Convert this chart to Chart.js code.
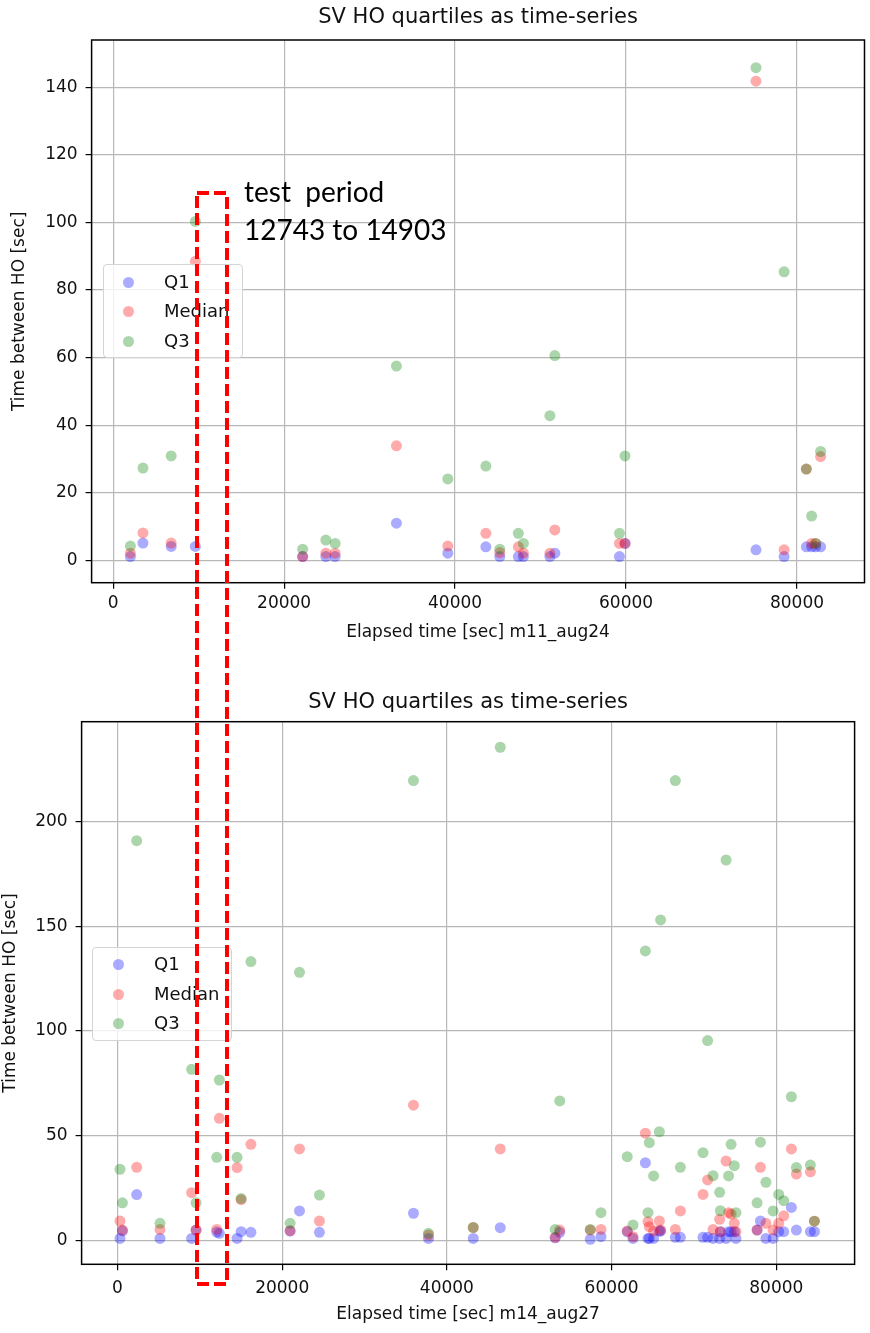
<!DOCTYPE html>
<html>
<head>
<meta charset="utf-8">
<script src="https://cdn.jsdelivr.net/npm/chart.js@4.4.1/dist/chart.umd.min.js"></script>
<style>
  body { margin:0; width:870px; height:1333px; background:#fff; position:relative; overflow:hidden; font-family:'DejaVu Sans', sans-serif; }
  .wrap { position:absolute; left:0; width:870px; }
  #wrapTop { top:0; height:650px; }
  #wrapBottom { top:680px; height:653px; }
  .legend { position:absolute; width:140px; height:94px; border:1px solid #d4d4d4; border-radius:4px; background:rgba(255,255,255,0.8); box-sizing:border-box; }
  .legend .dot { position:absolute; width:11px; height:11px; border-radius:50%; }
  .legend .txt { position:absolute; height:22px; line-height:22px; font-size:18px; color:#111; white-space:nowrap; }
  #note { position:absolute; left:244px; top:173px; font-family:Lato, 'Open Sans', sans-serif; font-size:28px; line-height:37.7px; color:#000; white-space:nowrap; }
  #box { position:absolute; left:0; top:0; }
</style>
</head>
<body>
<div class="wrap" id="wrapTop"><canvas id="chartTop"></canvas></div>
<div class="wrap" id="wrapBottom"><canvas id="chartBottom"></canvas></div>

<div class="legend" style="left:103px;top:264px;">
  <span class="dot" style="left:19px;top:12px;background:rgba(0,0,255,0.33)"></span><span class="txt" style="left:60px;top:6px;">Q1</span>
  <span class="dot" style="left:19px;top:41px;background:rgba(255,0,0,0.33)"></span><span class="txt" style="left:60px;top:35px;">Median</span>
  <span class="dot" style="left:19px;top:71px;background:rgba(0,128,0,0.33)"></span><span class="txt" style="left:60px;top:65px;">Q3</span>
</div>
<div class="legend" style="left:92px;top:947px;">
  <span class="dot" style="left:20px;top:11px;background:rgba(0,0,255,0.33)"></span><span class="txt" style="left:61px;top:5px;">Q1</span>
  <span class="dot" style="left:20px;top:41px;background:rgba(255,0,0,0.33)"></span><span class="txt" style="left:61px;top:35px;">Median</span>
  <span class="dot" style="left:20px;top:70px;background:rgba(0,128,0,0.33)"></span><span class="txt" style="left:61px;top:64px;">Q3</span>
</div>

<svg id="box" width="870" height="1333">
  <rect x="197" y="193" width="30" height="1091" fill="none" stroke="#ff0000" stroke-width="4" stroke-dasharray="12 5"/>
</svg>
<div id="note">test&nbsp; period<br>12743 to 14903</div>

<script>
// m11_aug24
const topTimes = [2020, 3490, 6790, 9620, 22170, 24880, 25970, 33140, 39150, 43600, 45230, 47400, 47990, 51090, 51670, 59230, 59880, 75200, 78490, 81090, 81710, 82180, 82760];
const topQ1 = [1.1, 5.1, 4.1, 4.1, 1.1, 1.1, 1.1, 11.0, 2.1, 4.0, 1.1, 1.1, 1.1, 1.1, 2.1, 1.1, 5.0, 3.1, 1.1, 4.0, 4.0, 4.0, 4.0];
const topMedian = [2.1, 8.1, 5.1, 88.5, 1.1, 2.1, 2.1, 33.9, 4.2, 8.0, 2.3, 4.0, 2.1, 2.1, 9.0, 5.0, 5.0, 141.8, 3.1, 27.0, 5.0, 5.0, 30.7];
const topQ3 = [4.2, 27.3, 30.9, 100.3, 3.3, 6.0, 5.0, 57.5, 24.1, 27.9, 3.3, 8.0, 5.0, 42.8, 60.6, 8.0, 30.9, 145.8, 85.4, 27.0, 13.1, 5.0, 32.2];

// m14_aug27
const bottomTimes = [300, 600, 2330, 5160, 9000, 9540, 12050, 12370, 14520, 15010, 16200, 20960, 22100, 24520, 35940, 37760, 43200, 46480, 53150, 53700, 57410, 58710, 61900, 62600, 64100, 64420, 64580, 65100, 65800, 65950, 67740, 68350, 71100, 71660, 72320, 73120, 73210, 73900, 74210, 74510, 74900, 75100, 77670, 78070, 78740, 79610, 80290, 80900, 81830, 82440, 84140, 84630];
const bottomQ1 = [1.0, 4.6, 21.9, 1.0, 1.0, 5.0, 4.0, 3.4, 1.0, 4.2, 3.9, 4.5, 14.1, 3.9, 13.0, 1.0, 1.0, 6.1, 1.3, 3.9, 0.6, 1.8, 4.2, 1.0, 37.1, 1.0, 1.0, 1.0, 4.5, 4.5, 1.5, 1.5, 1.5, 1.5, 1.0, 1.0, 4.2, 1.0, 4.2, 4.2, 4.2, 1.0, 5.0, 9.3, 1.0, 1.0, 4.2, 4.2, 15.8, 5.0, 4.2, 4.2];
const bottomMedian = [9.3, 5.0, 34.9, 5.3, 22.8, 5.0, 5.3, 58.3, 34.8, 19.5, 45.9, 4.7, 43.7, 9.3, 64.6, 2.6, 6.2, 43.7, 1.5, 5.0, 5.0, 5.3, 4.5, 1.8, 51.2, 9.0, 6.6, 4.5, 9.3, 5.0, 5.3, 14.1, 22.0, 28.9, 5.3, 10.1, 4.2, 37.9, 13.3, 12.6, 8.2, 4.2, 5.0, 34.9, 8.2, 5.0, 8.2, 11.8, 43.7, 31.7, 32.8, 9.2];
const bottomQ3 = [34.0, 18.0, 190.8, 8.2, 81.7, 18.0, 39.7, 76.6, 39.7, 20.0, 133.1, 8.2, 128.0, 21.7, 219.5, 3.4, 6.2, 235.4, 5.3, 66.6, 5.3, 13.3, 40.0, 7.4, 138.2, 13.3, 46.7, 30.8, 51.9, 153.0, 219.5, 34.9, 41.9, 95.4, 30.9, 23.0, 14.2, 181.6, 30.8, 45.9, 35.7, 13.3, 18.0, 46.9, 27.8, 14.1, 22.0, 19.0, 68.6, 34.8, 36.0, 9.2];

const xTicks = [0, 20000, 40000, 60000, 80000];
const topYTicks = [0, 20, 40, 60, 80, 100, 120, 140];
const bottomYTicks = [0, 50, 100, 150, 200];

const FONT = 'DejaVu Sans';

// black box round the plot area, like matplotlib spines
const framePlugin = {
    id: 'frame',
    afterDatasetsDraw(chart) {
        const a = chart.chartArea;
        const ctx = chart.ctx;
        ctx.save();
        ctx.strokeStyle = '#000';
        ctx.lineWidth = 1.5;
        ctx.strokeRect(a.left, a.top, a.right - a.left, a.bottom - a.top);
        ctx.restore();
    }
};

function makeChart(id, times, q1, med, q3, o) {
    const pts = vals => times.map((t, i) => ({x: t, y: vals[i]}));
    return new Chart(document.getElementById(id), {
        type: 'scatter',
        data: {
            datasets: [
                {label: 'Q1', data: pts(q1), backgroundColor: 'rgba(0,0,255,0.33)', order: 3},
                {label: 'Median', data: pts(med), backgroundColor: 'rgba(255,0,0,0.33)', order: 2},
                {label: 'Q3', data: pts(q3), backgroundColor: 'rgba(0,128,0,0.33)', order: 1}
            ]
        },
        options: {
            responsive: true,
            maintainAspectRatio: false,
            animation: false,
            elements: {point: {radius: 5.5, hoverRadius: 5.5, borderWidth: 0}},
            layout: {padding: {top: 0, right: o.padRight, bottom: 0, left: 0}},
            plugins: {
                legend: {display: false},
                tooltip: {enabled: false},
                title: {
                    display: true,
                    fullSize: false,
                    text: 'SV HO quartiles as time-series',
                    color: '#111',
                    font: {family: FONT, size: 21, weight: 'normal'},
                    padding: {top: o.titleTop, bottom: o.titleBottom}
                }
            },
            scales: {
                x: {
                    type: 'linear',
                    min: o.xMin, max: o.xMax,
                    afterBuildTicks: s => { s.ticks = xTicks.map(v => ({value: v})); },
                    afterFit: s => { s.height = o.xHeight; },
                    ticks: {color: '#111', font: {family: FONT, size: 17}, padding: o.xTickPad, maxRotation: 0, callback: v => String(v)},
                    grid: {color: '#b8b8b8', lineWidth: 1.2, tickColor: '#000', tickLength: 6, tickWidth: 1.2},
                    border: {display: false},
                    title: {display: true, text: o.xTitle, color: '#111', font: {family: FONT, size: 17}, padding: {top: 0, bottom: o.xTitlePad}}
                },
                y: {
                    type: 'linear',
                    min: o.yMin, max: o.yMax,
                    afterBuildTicks: s => { s.ticks = o.yTicks.map(v => ({value: v})); },
                    afterFit: s => { s.width = o.yWidth; },
                    ticks: {color: '#111', font: {family: FONT, size: 17}, padding: 8, callback: v => String(v)},
                    grid: {color: '#b8b8b8', lineWidth: 1.2, tickColor: '#000', tickLength: 6, tickWidth: 1.2},
                    border: {display: false},
                    title: {display: true, text: 'Time between HO [sec]', color: '#111', font: {family: FONT, size: 17}, padding: {top: o.yTitlePad, bottom: 0}}
                }
            }
        },
        plugins: [framePlugin]
    });
}

makeChart('chartTop', topTimes, topQ1, topMedian, topQ3, {
    xMin: -2519, xMax: 87893, yMin: -6.63, yMax: 154.0, yTicks: topYTicks,
    padRight: 3.2, titleTop: 5, titleBottom: 9.8, xHeight: 67.3, xTickPad: 4.3,
    xTitlePad: 6.8, yWidth: 91.6, yTitlePad: 9.8,
    xTitle: 'Elapsed time [sec] m11_aug24'
});

makeChart('chartBottom', bottomTimes, bottomQ1, bottomMedian, bottomQ3, {
    xMin: -4359, xMax: 89508, yMin: -11.36, yMax: 247.6, yTicks: bottomYTicks,
    padRight: 15.4, titleTop: 10, titleBottom: 6.5, xHeight: 68.7, xTickPad: 7.8,
    xTitlePad: 7.8, yWidth: 81.6, yTitlePad: 0,
    xTitle: 'Elapsed time [sec] m14_aug27'
});
</script>
</body>
</html>
